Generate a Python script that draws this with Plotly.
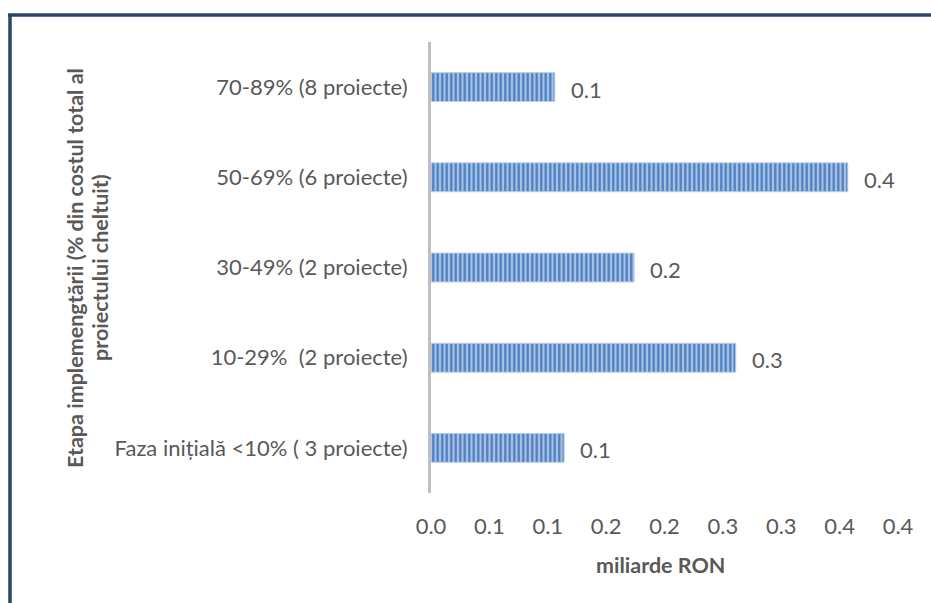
import plotly.graph_objects as go

# Implementation stage of projects and the amount spent (billion RON)
categories = [
    "Faza inițială <10% ( 3 proiecte)",
    "10-29%  (2 proiecte)",
    "30-49% (2 proiecte)",
    "50-69% (6 proiecte)",
    "70-89% (8 proiecte)",
]
values = [0.114, 0.261, 0.174, 0.357, 0.106]

tick_vals = [0.0, 0.05, 0.10, 0.15, 0.20, 0.25, 0.30, 0.35, 0.40]
tick_text = ["0.0", "0.1", "0.1", "0.2", "0.2", "0.3", "0.3", "0.4", "0.4"]

y_title_lines = ["Etapa implemengtării (% din costul total al", "proiectului cheltuit)"]
x_title = "miliarde RON"

FONT = "Lato"
GREY = "#595959"
SIZE = 22

# plot area in pixels
W, H = 931, 603
L, R, T, B = 431, 898, 42, 493

def px_x(px):
    return (px - L) / (R - L)

def px_y(py):
    return (B - py) / (B - T)

fig = go.Figure(
    go.Bar(
        x=values,
        y=categories,
        orientation="h",
        marker=dict(
            color="#a9c3e4",
            line=dict(color="#b9cde5", width=1),
            pattern=dict(
                shape="|",
                size=4.5,
                solidity=0.5,
                fgcolor="#4a7dc1",
                bgcolor="#a9c3e4",
                fillmode="replace",
            ),
        ),
        hoverinfo="skip",
    )
)

annotations = []
for cat, v in zip(categories, values):
    annotations.append(
        dict(
            x=v, y=cat, xref="x", yref="y",
            text=f"{v:.1f}", showarrow=False,
            xanchor="left", xshift=14, yshift=-2,
            font=dict(family=FONT, size=SIZE, color=GREY),
        )
    )

# two-line rotated y-axis title
for line, cx in zip(y_title_lines, [75, 100]):
    annotations.append(
        dict(
            x=px_x(cx), y=px_y(268), xref="paper", yref="paper",
            text=line, showarrow=False, textangle=-90,
            xanchor="center", yanchor="middle",
            font=dict(family=FONT, size=21.5, color=GREY, weight="bold"),
        )
    )
annotations.append(
    dict(
        x=px_x(660), y=px_y(565), xref="paper", yref="paper",
        text=x_title, showarrow=False,
        xanchor="center", yanchor="middle",
        font=dict(family=FONT, size=21.5, color=GREY, weight="bold"),
    )
)

# outer frame: thick top and left edges
frame = "#2b4565"
shapes = [
    dict(type="line", xref="paper", yref="paper",
         x0=px_x(8), x1=px_x(940), y0=px_y(15), y1=px_y(15),
         line=dict(color=frame, width=3.5)),
    dict(type="line", xref="paper", yref="paper",
         x0=px_x(10), x1=px_x(10), y0=px_y(14), y1=px_y(610),
         line=dict(color=frame, width=3.5)),
]

fig.update_layout(
    width=W, height=H,
    margin=dict(l=L, r=W - R, t=T, b=H - B),
    paper_bgcolor="white",
    plot_bgcolor="white",
    showlegend=False,
    bargap=0.68,
    annotations=annotations,
    shapes=shapes,
    xaxis=dict(
        range=[0, 0.4],
        tickvals=tick_vals,
        ticktext=tick_text,
        showgrid=False,
        zeroline=False,
        showline=False,
        ticks="",
        tickfont=dict(family=FONT, size=SIZE, color=GREY),
        ticklabelstandoff=18,
    ),
    yaxis=dict(
        categoryorder="array",
        categoryarray=categories,
        showgrid=False,
        zeroline=False,
        showline=True,
        linecolor="#bfbfbf",
        linewidth=3,
        ticks="",
        tickfont=dict(family=FONT, size=SIZE, color=GREY),
        ticklabelstandoff=16,
    ),
)

fig.write_html("out.html")
